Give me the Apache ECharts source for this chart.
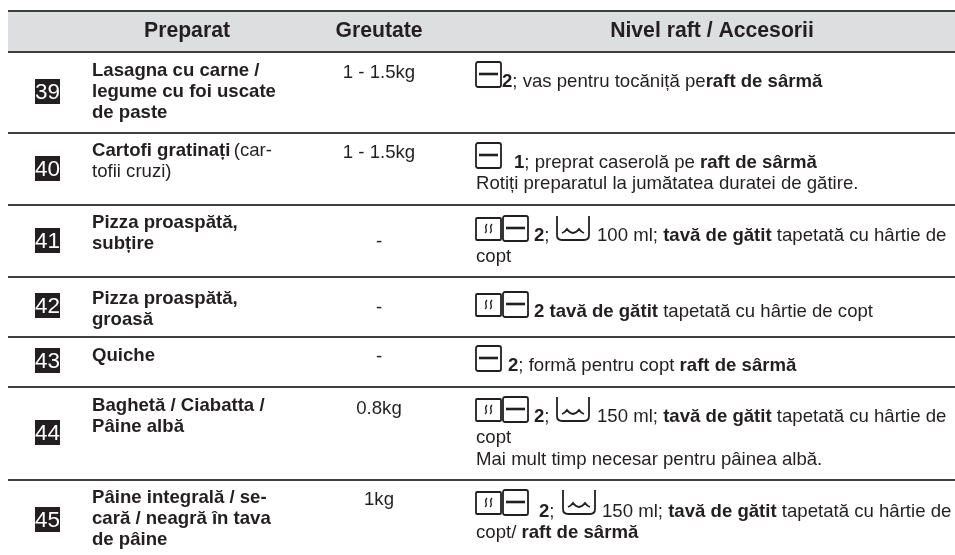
<!DOCTYPE html>
<html>
<head>
<meta charset="utf-8">
<style>
  html, body { margin: 0; padding: 0; background: #fff; }
  #chart { width: 955px; height: 555px; }
</style>
<script src="https://cdn.jsdelivr.net/npm/echarts@6/dist/echarts.min.js"></script>
</head>
<body>
<div id="chart"></div>
<script>
// --- table contents ---
var headers = ['Preparat', 'Greutate', 'Nivel raft / Accesorii'];
var rowNumbers = ['39', '40', '41', '42', '43', '44', '45'];
var dishLines = [
  ['{b|Lasagna cu carne /}', '{b|legume cu foi uscate}', '{b|de paste}'],
  ['{b|Cartofi gratinați} {r|(car-}', '{r|tofii cruzi)}'],
  ['{b|Pizza proaspătă,}', '{b|subțire}'],
  ['{b|Pizza proaspătă,}', '{b|groasă}'],
  ['{b|Quiche}'],
  ['{b|Baghetă / Ciabatta /}', '{b|Pâine albă}'],
  ['{b|Pâine integrală / se-}', '{b|cară / neagră în tava}', '{b|de pâine}']
];
var weights = ['1 - 1.5kg', '1 - 1.5kg', '-', '-', '-', '0.8kg', '1kg'];
var accessoryIcons = [
  ['shelf'], ['shelf'], ['fan', 'shelf', 'water'], ['fan', 'shelf'],
  ['shelf'], ['fan', 'shelf', 'water'], ['fan', 'shelf', 'water']
];
var accessoryRuns = [
  ['{b|2}{r|; vas pentru tocăniță pe}{b|raft de sârmă}'],
  ['{b|1}{r|; preprat caserolă pe }{b|raft de sârmă}'],
  ['{b|2}{r|;}', '{r|100 ml; }{b|tavă de gătit}{r| tapetată cu hârtie de}'],
  ['{b|2 tavă de gătit}{r| tapetată cu hârtie de copt}'],
  ['{b|2}{r|; formă pentru copt }{b|raft de sârmă}'],
  ['{b|2}{r|;}', '{r|150 ml; }{b|tavă de gătit}{r| tapetată cu hârtie de}'],
  ['{b|2}{r|;}', '{r|150 ml; }{b|tavă de gătit}{r| tapetată cu hârtie de}']
];
var accessoryMore = [
  [],
  ['{r|Rotiți preparatul la jumătatea duratei de gătire.}'],
  ['{r|copt}'],
  [],
  [],
  ['{r|copt}', '{r|Mai mult timp necesar pentru pâinea albă.}'],
  ['{r|copt/ }{b|raft de sârmă}']
];

// --- layout, in page pixels ---
var headerTop = 11, headerBottom = 52, tableLeft = 8, tableRight = 955;
var headerX = [187, 379, 712], headerBase = 39;
var rowLines = [132, 204, 276, 336, 386, 479];
var numberTop = [79, 156, 228, 293, 348, 420, 507];
var dishBase = [77, 157, 229, 305, 362, 412, 504];
var weightBase = [79, 159, 248, 314, 363, 415, 506];
var iconX = [[476], [476], [476, 503, 556], [476, 503], [476], [476, 503, 556], [476, 503, 562]];
var iconTop = [62, 143, 216, 292, 346, 397, 490];
var runX = [[502], [514], [534, 597], [534], [508], [534, 597], [539, 602]];
var runBase = [88, 169, 242, 318, 372, 423, 518];

var FONT = '"Liberation Sans", Arial, sans-serif';
var INK = '#231f20';
var BODY = 18.6;
var richStyles = {
  b: { font: 'bold ' + BODY + 'px ' + FONT, fill: INK, color: INK },
  r: { font: BODY + 'px ' + FONT, fill: INK, color: INK }
};

function textEl(api, x, base, str, size, opts) {
  var p = api.coord([x, base - size * 0.35]);
  opts = opts || {};
  var style = {
    x: p[0], y: p[1], text: str,
    verticalAlign: 'middle',
    align: opts.align || 'left',
    fill: opts.fill || INK
  };
  if (opts.rich) {
    style.rich = opts.rich;
  } else {
    style.font = (opts.bold ? 'bold ' : '') + size + 'px ' + FONT;
  }
  return { type: 'text', style: style, silent: true };
}

// a rule across the table: dark core with a soft grey edge
function ruleEl(api, y) {
  var a = api.coord([tableLeft, y]);
  var b = api.coord([tableRight, y + 2]);
  return { type: 'rect', shape: { x: a[0], y: a[1], width: b[0] - a[0], height: b[1] - a[1] }, style: { fill: '#3f3f41' }, silent: true };
}

function iconEl(api, kind, x, top) {
  var p = api.coord([x, top]);
  var line = { stroke: INK, lineWidth: 1.8, fill: 'none' };
  var kids = [];
  if (kind === 'shelf') {
    kids.push({ type: 'rect', shape: { x: 0, y: 0, width: 25, height: 25, r: 2 }, style: line });
    kids.push({ type: 'line', shape: { x1: 3, y1: 12, x2: 22, y2: 12 }, style: { stroke: INK, lineWidth: 2.6 } });
  } else if (kind === 'fan') {
    kids.push({ type: 'rect', shape: { x: 0, y: 2, width: 25, height: 22, r: 1 }, style: line });
    [10, 15].forEach(function (cx) {
      kids.push({ type: 'bezierCurve', shape: { x1: cx + 1, y1: 8, cpx1: cx - 3, cpy1: 12, cpx2: cx + 3, cpy2: 14, x2: cx - 1, y2: 17 }, style: { stroke: INK, lineWidth: 1.3, fill: 'none' } });
    });
  } else {
    kids.push({ type: 'path', shape: { pathData: 'M1 0 L1 19 Q1 24 6 24 L28 24 Q33 24 33 19 L33 0', layout: 'none' }, style: line });
    kids.push({ type: 'path', shape: { pathData: 'M6 17 Q9 16 11 13 Q14 17 17 17 Q20 17 23 13 Q25 16 28 17', layout: 'none' }, style: line });
  }
  return { type: 'group', x: p[0], y: p[1], children: kids, silent: true };
}

function renderHeader(params, api) {
  var a = api.coord([tableLeft, headerTop]);
  var b = api.coord([tableRight, headerBottom]);
  var kids = [
    { type: 'rect', shape: { x: a[0], y: a[1], width: b[0] - a[0], height: b[1] - a[1] }, style: { fill: '#dcdee0' }, silent: true },
    ruleEl(api, headerTop - 1),
    ruleEl(api, headerBottom - 1)
  ];
  headers.forEach(function (h, i) {
    kids.push(textEl(api, headerX[i], headerBase, h, 21.2, { bold: true, align: 'center' }));
  });
  rowLines.forEach(function (y) { kids.push(ruleEl(api, y)); });
  return { type: 'group', children: kids };
}

function renderRow(params, api) {
  var i = api.value(0);
  var kids = [];
  var a = api.coord([35, numberTop[i]]);
  var b = api.coord([60, numberTop[i] + 25]);
  kids.push({ type: 'rect', shape: { x: a[0], y: a[1], width: b[0] - a[0], height: b[1] - a[1] }, style: { fill: INK }, silent: true });
  kids.push(textEl(api, 47.5, numberTop[i] + 22, rowNumbers[i], 22.5, { align: 'center', fill: '#fff' }));

  dishLines[i].forEach(function (line, n) {
    kids.push(textEl(api, 92, dishBase[i] + n * 21.3, line, BODY, { rich: richStyles }));
  });
  kids.push(textEl(api, 379, weightBase[i], weights[i], BODY, { align: 'center' }));

  accessoryIcons[i].forEach(function (kind, n) {
    kids.push(iconEl(api, kind, iconX[i][n], iconTop[i]));
  });
  accessoryRuns[i].forEach(function (run, n) {
    kids.push(textEl(api, runX[i][n], runBase[i], run, BODY, { rich: richStyles }));
  });
  accessoryMore[i].forEach(function (line, n) {
    kids.push(textEl(api, 476, runBase[i] + (n + 1) * 21.5, line, BODY, { rich: richStyles }));
  });
  return { type: 'group', children: kids };
}

var myChart = echarts.init(document.getElementById('chart'), null, { renderer: 'canvas' });
myChart.setOption({
  animation: false,
  backgroundColor: '#ffffff',
  grid: { left: 0, right: 0, top: 0, bottom: 0 },
  xAxis: { type: 'value', min: 0, max: 955, show: false },
  yAxis: { type: 'value', min: 0, max: 555, inverse: true, show: false },
  series: [
    { type: 'custom', clip: false, silent: true, data: [[0]], renderItem: renderHeader },
    { type: 'custom', clip: false, silent: true, data: rowNumbers.map(function (_, i) { return [i]; }), renderItem: renderRow }
  ]
});
</script>
</body>
</html>
